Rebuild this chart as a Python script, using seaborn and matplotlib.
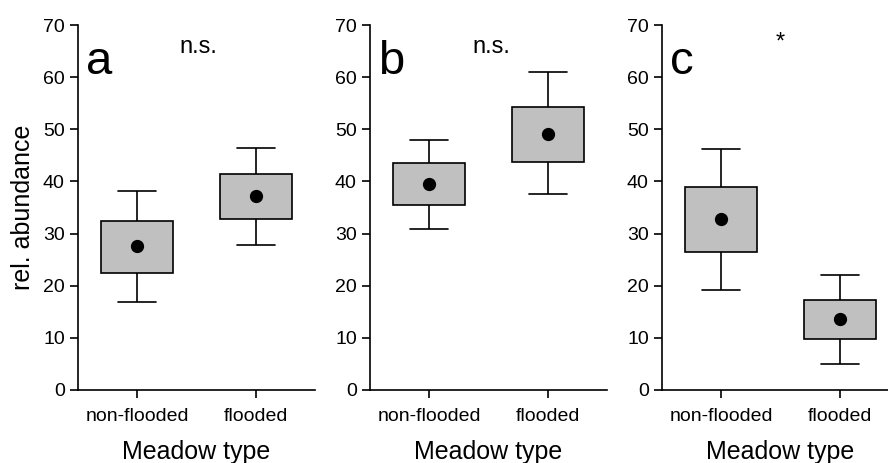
import pandas as pd
import matplotlib.pyplot as plt
import seaborn as sns

# summary values (rel. abundance)
meadow = ['non-flooded', 'flooded']
panels = ['a', 'b', 'c']
signif = ['n.s.', 'n.s.', '*']

whisker_low = {'a': [16.9, 27.9], 'b': [30.9, 37.5], 'c': [19.1, 4.9]}
box_low = {'a': [22.5, 32.8], 'b': [35.4, 43.7], 'c': [26.4, 9.8]}
box_high = {'a': [32.4, 41.5], 'b': [43.5, 54.3], 'c': [38.9, 17.2]}
whisker_high = {'a': [38.1, 46.5], 'b': [48.0, 60.9], 'c': [46.2, 22.0]}
means = {'a': [27.6, 37.2], 'b': [39.5, 49.0], 'c': [32.7, 13.6]}


def panel_frame(p):
    # five points per group so that min, Q1, Q3, max match the read values
    rows = []
    for i, m in enumerate(meadow):
        lo, q1, q3, hi = whisker_low[p][i], box_low[p][i], box_high[p][i], whisker_high[p][i]
        for v in [lo, q1, (q1 + q3) / 2, q3, hi]:
            rows.append((m, v))
    return pd.DataFrame(rows, columns=['meadow', 'value'])


sns.set_style('ticks')
plt.rcParams['font.family'] = ['Liberation Sans', 'DejaVu Sans']
plt.rcParams['text.color'] = 'black'
plt.rcParams['axes.labelcolor'] = 'black'

fig = plt.figure(figsize=(8.88, 4.63), dpi=100)
lefts = [0.0878, 0.4167, 0.7455]

for k, p in enumerate(panels):
    ax = fig.add_axes([lefts[k], 0.1577, 0.2669, 0.7883])
    df = panel_frame(p)
    sns.boxplot(data=df, x='meadow', y='value', order=meadow, ax=ax,
                whis=(0, 100), width=0.61, color='#c0c0c0', saturation=1,
                linecolor='black', linewidth=1.2, showfliers=False,
                medianprops=dict(linewidth=0), capwidths=0.32)
    mdf = pd.DataFrame({'meadow': meadow, 'value': means[p]})
    sns.pointplot(data=mdf, x='meadow', y='value', order=meadow, ax=ax,
                  color='black', linestyle='none', markersize=7.5, errorbar=None)

    ax.set_xlim(-0.5, 1.5)
    ax.set_ylim(0, 70)
    ax.set_yticks(range(0, 71, 10))
    sns.despine(ax=ax)
    for s in ['left', 'bottom']:
        ax.spines[s].set_linewidth(1.2)
        ax.spines[s].set_color('black')
    ax.tick_params(axis='both', labelsize=14, length=6, width=1.2,
                   color='black', labelcolor='black', direction='out')
    ax.tick_params(axis='x', pad=7)
    ax.set_xlabel('Meadow type', fontsize=18, labelpad=11)
    if k == 0:
        ax.set_ylabel('rel. abundance', fontsize=18, labelpad=6)
    else:
        ax.set_ylabel('')

    ax.text(-0.43, 60.6, p, fontsize=34, ha='left', va='baseline')
    if signif[k] == '*':
        ax.text(0.5, 65.5, '*', fontsize=17, ha='center', va='baseline')
    else:
        ax.text(0.52, 64.6, signif[k], fontsize=17, ha='center', va='baseline')

fig.savefig('out.png', dpi=100)
